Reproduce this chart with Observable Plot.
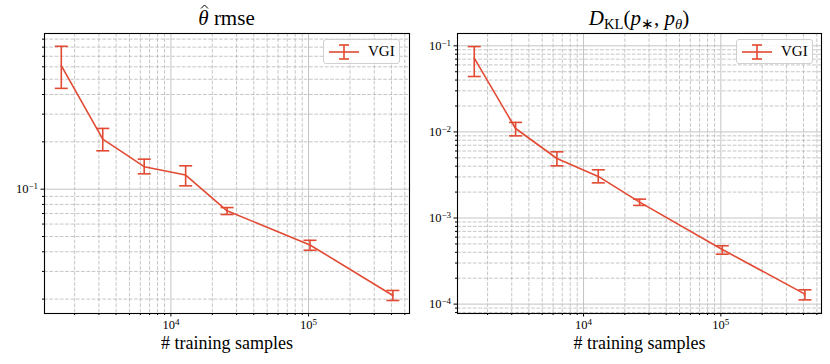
<!DOCTYPE html>
<html>
<head>
<meta charset="utf-8">
<script src="https://cdn.jsdelivr.net/npm/d3@7"></script>
<script src="https://cdn.jsdelivr.net/npm/@observablehq/plot@0.6"></script>
<style>
  html, body { margin: 0; padding: 0; background: #fff; }
  #wrap { position: relative; width: 830px; height: 364px; font-family: "Liberation Serif", "Times New Roman", serif; }
  .panel { position: absolute; top: 0; }
  .title { position: absolute; text-align: center; font-size: 21px; line-height: 1; white-space: nowrap; }
  .title sub { font-size: 0.7em; vertical-align: -0.25em; }
  .hat { position: relative; display: inline-block; }
  .hat svg { position: absolute; left: 0.1em; top: -0.18em; }
  .legend { position: absolute; border: 1px solid #d0d0d0; border-radius: 3px; background: rgba(255,255,255,0.85);
            box-sizing: border-box; font-size: 15px; display: flex; align-items: center; }
</style>
</head>
<body>
<div id="wrap"></div>
<script>
// ---- data ----
const samples = [1600, 3200, 6400, 12800, 25600, 102400, 409600];
const rmseMean = [0.610, 0.208, 0.139, 0.123, 0.0728, 0.0442, 0.0211];
const rmseLow  = [0.4375, 0.1754, 0.1252, 0.1050, 0.0690, 0.0409, 0.0196];
const rmseHigh = [0.810, 0.2434, 0.1552, 0.1408, 0.0764, 0.0473, 0.0227];
const klMean = [0.0719, 0.01096, 0.00491, 0.00304, 0.00153, 0.000431, 0.0001306];
const klLow  = [0.0440, 0.00900, 0.00404, 0.00256, 0.00140, 0.000380, 0.000112];
const klHigh = [0.0980, 0.01290, 0.00587, 0.00363, 0.001657, 0.000476, 0.0001466];
const seriesName = "VGI";
const xLabel = "# training samples";

// ticks
const mult = [2, 3, 4, 5, 6, 7, 8, 9];
const xMajor = [1e4, 1e5];
const xMinor = [1e3, 1e4, 1e5].flatMap(d => mult.map(m => m * d));
const rmseMajor = [0.1];
const rmseMinor = [0.01, 0.1].flatMap(d => mult.map(m => m * d));
const klMajor = [1e-4, 1e-3, 1e-2, 1e-1];
const klMinor = [1e-5, 1e-4, 1e-3, 1e-2, 1e-1].flatMap(d => mult.map(m => m * d));

const red = "#e24a33";
const xDomain = [1208, 540800];
const FONT = '"Liberation Serif", "Times New Roman", serif';

const capSymbol = {
  draw(context, size) {
    const w = Math.sqrt(size / Math.PI);
    context.moveTo(-w, 0);
    context.lineTo(w, 0);
  }
};

const fmtPow = v => "10^" + String(Math.round(Math.log10(v))).replace("-", "\u2212");

function panel({mean, low, high, yDomain, yMajor, yMinor, mLeft, mRight}) {
  const data = samples.map((x, i) => ({x, y: mean[i], lo: low[i], hi: high[i]}));
  const inDom = (arr, dom) => arr.filter(v => v >= dom[0] && v <= dom[1]);
  const xMin = inDom(xMinor, xDomain), yMin = inDom(yMinor, yDomain);
  const svg = Plot.plot({
    width: 415, height: 364,
    marginLeft: mLeft, marginRight: mRight, marginTop: 33, marginBottom: 51,
    x: {type: "log", domain: xDomain},
    y: {type: "log", domain: yDomain},
    style: {fontFamily: FONT, fontSize: "12.5px", color: "black", background: "transparent", overflow: "visible"},
    marks: [
      Plot.gridX(xMin, {stroke: "#b8b8b8", strokeOpacity: 1, strokeWidth: 0.8, strokeDasharray: "3.7,1.6"}),
      Plot.gridY(yMin, {stroke: "#b8b8b8", strokeOpacity: 1, strokeWidth: 0.8, strokeDasharray: "3.7,1.6"}),
      Plot.gridX(xMajor, {stroke: "#c4c4c4", strokeOpacity: 1, strokeWidth: 1}),
      Plot.gridY(yMajor, {stroke: "#c4c4c4", strokeOpacity: 1, strokeWidth: 1}),
      Plot.line(data, {x: "x", y: "y", stroke: red, strokeWidth: 1.6}),
      Plot.ruleX(data, {x: "x", y1: "lo", y2: "hi", stroke: red, strokeWidth: 1.6}),
      Plot.dot(data, {x: "x", y: "lo", symbol: capSymbol, r: 6.5, fill: "none", stroke: red, strokeWidth: 1.6}),
      Plot.dot(data, {x: "x", y: "hi", symbol: capSymbol, r: 6.5, fill: "none", stroke: red, strokeWidth: 1.6}),
      Plot.frame({stroke: "black", strokeWidth: 1.1}),
      Plot.axisX(xMin, {tickSize: 2, tickFormat: () => "", label: null}),
      Plot.axisX(xMajor, {tickSize: 3.5, tickPadding: 3, tickFormat: fmtPow, label: null, fontSize: 12.5}),
      Plot.axisY(yMin, {tickSize: 2, tickFormat: () => "", label: null}),
      Plot.axisY(yMajor, {tickSize: 3.5, tickPadding: 3, tickFormat: fmtPow, label: null, fontSize: 12.5}),
      Plot.text([xLabel], {frameAnchor: "bottom", dy: 35.5, lineAnchor: "bottom", fontSize: 18, fill: "black"})
    ]
  });
  const ns = "http://www.w3.org/2000/svg";
  svg.querySelectorAll("text").forEach(t => {
    const m = t.textContent.match(/^10\^(.+)$/);
    if (m) {
      t.textContent = "10";
      const ts = document.createElementNS(ns, "tspan");
      ts.setAttribute("dy", "-0.45em");
      ts.setAttribute("font-size", "0.72em");
      ts.textContent = m[1];
      t.appendChild(ts);
    }
  });
  return svg;
}

const wrap = document.getElementById("wrap");

function addPanel(left, svg, titleHTML, frameL, frameR, legendBox) {
  const d = document.createElement("div");
  d.className = "panel";
  d.style.left = left + "px";
  d.appendChild(svg);
  wrap.appendChild(d);
  const t = document.createElement("div");
  t.className = "title";
  t.style.left = frameL + "px";
  t.style.width = (frameR - frameL) + "px";
  t.style.top = "8px";
  t.innerHTML = titleHTML;
  wrap.appendChild(t);
  const lg = document.createElement("div");
  lg.className = "legend";
  lg.style.left = legendBox[0] + "px";
  lg.style.top = legendBox[1] + "px";
  lg.style.width = legendBox[2] + "px";
  lg.style.height = legendBox[3] + "px";
  lg.innerHTML = `<svg width="40" height="22" style="flex:none">
      <line x1="5" x2="35" y1="11" y2="11" stroke="${red}" stroke-width="1.6"/>
      <line x1="20" x2="20" y1="4" y2="18" stroke="${red}" stroke-width="1.6"/>
      <line x1="15" x2="25" y1="4" y2="4" stroke="${red}" stroke-width="1.6"/>
      <line x1="15" x2="25" y1="18" y2="18" stroke="${red}" stroke-width="1.6"/>
    </svg><span style="margin-left:4px">${seriesName}</span>`;
  wrap.appendChild(lg);
}

const hatSvg = `<svg width="9" height="5" viewBox="0 0 9 5"><polyline points="1,4.5 4.5,1 8,4.5" fill="none" stroke="black" stroke-width="1"/></svg>`;

const left = panel({mean: rmseMean, low: rmseLow, high: rmseHigh, yDomain: [0.0162, 0.977],
  yMajor: rmseMajor, yMinor: rmseMinor, mLeft: 44, mRight: 6});
addPanel(0, left, `<span class="hat"><i>θ</i>${hatSvg}</span> rmse`, 44, 409, [323, 39, 77, 25]);

const right = panel({mean: klMean, low: klLow, high: klHigh, yDomain: [7.78e-5, 0.139],
  yMajor: klMajor, yMinor: klMinor, mLeft: 42, mRight: 9});
addPanel(415, right, `<i>D</i><sub>KL</sub>(<i>p</i><sub>∗</sub>, <i>p</i><sub><i>θ</i></sub>)`, 457, 821, [736, 39, 77, 25]);
</script>
</body>
</html>
